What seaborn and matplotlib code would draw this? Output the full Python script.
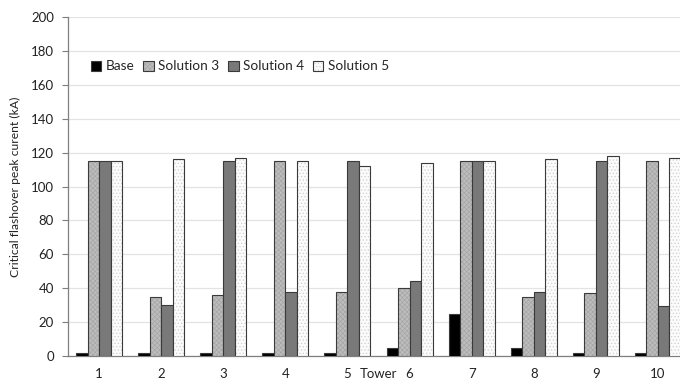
import matplotlib
matplotlib.use("Agg")
import matplotlib.pyplot as plt
from matplotlib.colors import to_rgba
import seaborn as sns
import pandas as pd

towers = ["1", "2", "3", "4", "5", "6", "7", "8", "9", "10"]
base = [1.5, 1.5, 1.5, 1.5, 1.5, 4.5, 24.5, 4.5, 1.5, 1.5]
solution3 = [115, 35, 36, 115, 38, 40, 115, 35, 37, 115]
solution4 = [115, 30, 115, 38, 115, 44.5, 115, 37.5, 115, 29.5]
solution5 = [115, 116, 117, 115, 112, 114, 115, 116, 118, 117]
series = ["Base", "Solution 3", "Solution 4", "Solution 5"]
yticks = [0, 20, 40, 60, 80, 100, 120, 140, 160, 180, 200]

df = pd.DataFrame({
    "Tower": towers * 4,
    "Series": sum([[s] * len(towers) for s in series], []),
    "Value": base + solution3 + solution4 + solution5,
})

sns.set_theme(style="white")
plt.rcParams["font.family"] = ["Lato", "DejaVu Sans"]
plt.rcParams["hatch.linewidth"] = 0.5

fig = plt.figure(figsize=(6.8, 3.83), dpi=100)
ax = fig.add_axes([68 / 680, 1 - 356 / 383, 621 / 680, 339 / 383])

palette = {"Base": "#000000", "Solution 3": "#bdbdbd",
           "Solution 4": "#797979", "Solution 5": "#fbfbfb"}
sns.barplot(data=df, x="Tower", y="Value", hue="Series", order=towers,
            hue_order=series, palette=palette, width=0.74, dodge=True,
            saturation=1, legend=False, ax=ax, zorder=3)

# outline and texture for each series
hatches = {"Base": None, "Solution 3": "xxxxxxx", "Solution 4": None, "Solution 5": "....."}
hatch_cols = {"Solution 3": "#a6a6a6", "Solution 5": "#cfcfcf"}
for name, cont in zip(series, ax.containers):
    for p in cont.patches:
        p.set_edgecolor("#3a3a3a")
        p.set_linewidth(0.8)
        if hatches[name]:
            p.set_hatch(hatches[name])
            p._hatch_color = to_rgba(hatch_cols[name])

ax.set_ylim(0, 200)
ax.set_xlim(-0.5, 9.5)
ax.set_yticks(yticks)
ax.yaxis.grid(True, color="#e3e3e3", linewidth=0.9, zorder=0)
ax.set_axisbelow(True)
for side in ["top", "right"]:
    ax.spines[side].set_visible(False)
for side in ["left", "bottom"]:
    ax.spines[side].set_color("#7f7f7f")
    ax.spines[side].set_linewidth(0.9)

ax.tick_params(axis="y", which="both", left=True, length=4, width=0.8,
               color="#7f7f7f", pad=6, labelsize=9.5, labelcolor="#222222")
ax.tick_params(axis="x", bottom=False, length=0, pad=9, labelsize=9.5,
               labelcolor="#222222")

ax.set_xlabel("")
ax.set_ylabel("Critical flashover peak curent (kA)", fontsize=8.7, color="#222222")
ax.yaxis.set_label_coords(-0.076, 0.5)
ax.text(4.5, -12.5 / 339, "Tower", transform=ax.get_xaxis_transform(),
        ha="center", va="top", fontsize=9.5, color="#222222")

ax.legend(handles=list(ax.containers), labels=series, ncol=4, frameon=False,
          loc="center left", bbox_to_anchor=(0.028, 0.854),
          handlelength=0.75, handleheight=0.75, handletextpad=0.35,
          columnspacing=0.65, fontsize=9.8, borderaxespad=0)

fig.savefig("out.png", dpi=100)
